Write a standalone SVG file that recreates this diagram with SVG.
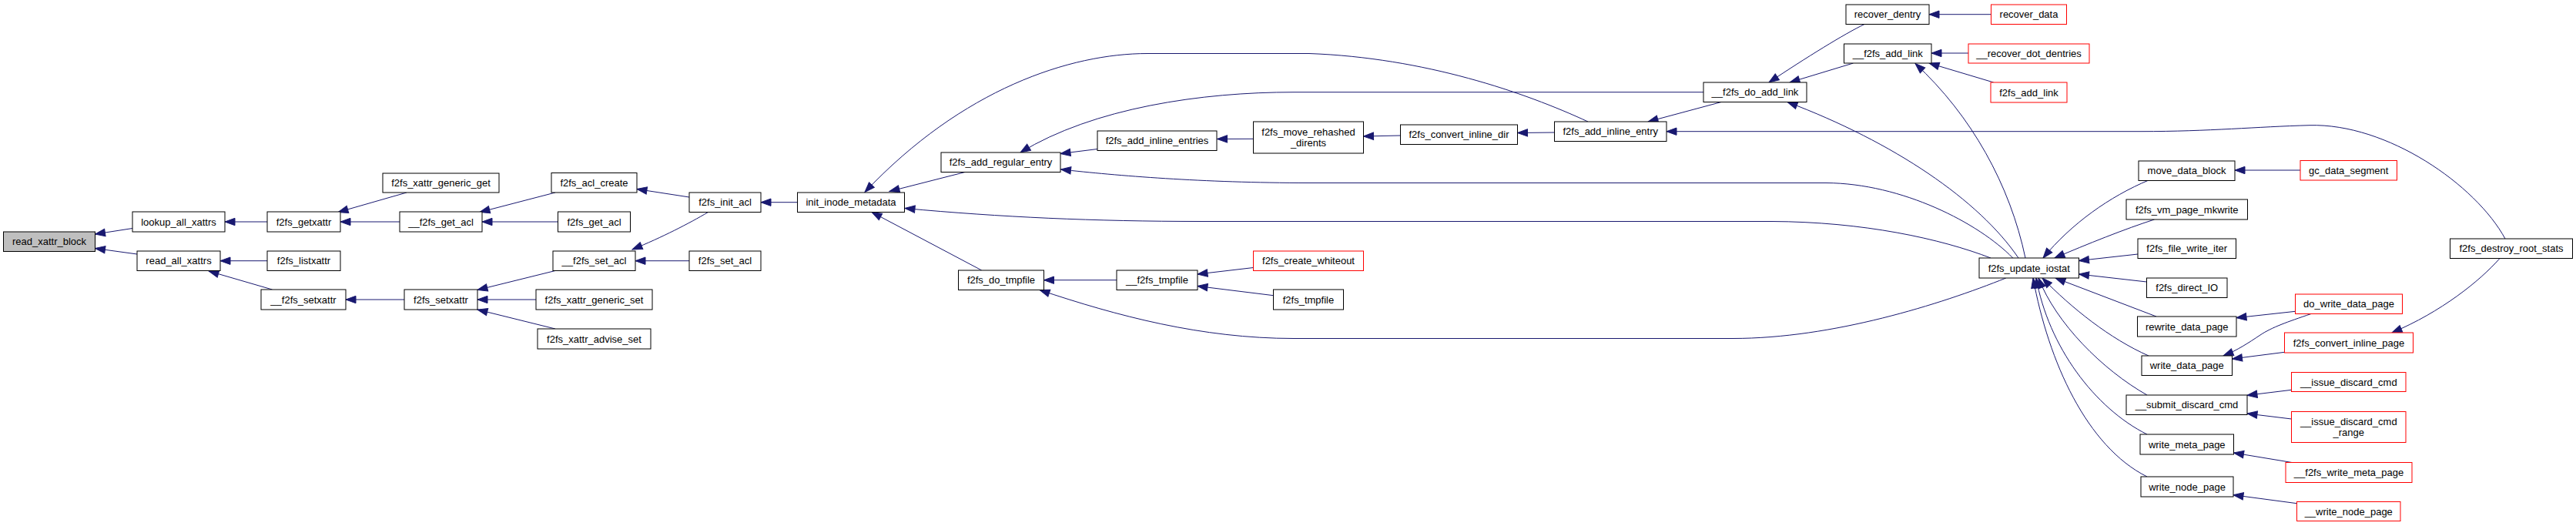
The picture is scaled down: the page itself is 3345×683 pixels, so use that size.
<svg xmlns="http://www.w3.org/2000/svg" width="3345" height="683" viewBox="0 0 3345 683">
<style>
.node rect{fill:#fff;stroke:#000;stroke-width:1}
.node.root rect{fill:#bfbfbf}
.node.red rect{stroke:#ff0000}
.node text{font-family:"Liberation Sans",Arial,Helvetica,sans-serif;font-size:13px;text-anchor:middle;fill:#000}
.edges path{fill:none;stroke:#191970;stroke-width:1;marker-end:url(#arr)}
</style>
<defs>
<marker id="arr" markerUnits="userSpaceOnUse" markerWidth="15" markerHeight="12" refX="13" refY="6" orient="auto" overflow="visible">
<path d="M0,1.3 L13,6 L0,10.7 Z" fill="#191970" stroke="#191970" stroke-width="1"/>
</marker>
</defs>
<rect width="3345" height="683" fill="#fff"/>
<g id="connectors" class="edges">
<path d="M172,296.5 L123.5,304"/>
<path d="M178,330 L123.5,322.5"/>
<path d="M347,288 L292,288"/>
<path d="M347,338.7 L286,338.7"/>
<path d="M353.5,376 L271,352"/>
<path d="M528,250 L439,275.5"/>
<path d="M519,288 L442,288"/>
<path d="M721,250 L623,275.5"/>
<path d="M724.5,288 L626,288"/>
<path d="M525,389 L449,389"/>
<path d="M721,351.5 L620,376.5"/>
<path d="M696,389 L620,389"/>
<path d="M721,427 L620,402"/>
<path d="M895,256 L827,245.5"/>
<path d="M919.5,275.5 C895,290 860,308 821,324"/>
<path d="M895,338.7 L825,338.7"/>
<path d="M1035.5,262.7 L988,262.7"/>
<path d="M1253,223.5 L1155,248.5"/>
<path d="M2062,158 C1980,120 1850,75 1700,69.5 L1490,69.5 C1390,69.5 1250,115 1123,249.5"/>
<path d="M2212,119.7 L1680,119.7 C1560,119.7 1420,140 1325,198"/>
<path d="M1425,193.5 L1377,199.5"/>
<path d="M2613.7,335 C2570,290 2470,238 2371,237.5 L1700,237.5 C1560,237.5 1450,228 1377.5,220"/>
<path d="M2585,335 C2520,310 2420,288 2300,287.5 L1560,287.5 C1420,287.5 1300,282 1175,270.5"/>
<path d="M1274.7,351 L1132,275.5"/>
<path d="M1450,363.7 L1355.5,363.7"/>
<path d="M2604.8,361 C2520,395 2380,439.5 2250,439.5 L1680,439.5 C1560,439.5 1450,410 1350,376.5"/>
<path d="M1627.5,347.5 L1555,356"/>
<path d="M1653.5,383.7 L1555,371.5"/>
<path d="M1627.5,180.3 L1580.5,180.5"/>
<path d="M1818.5,176 L1770.5,177"/>
<path d="M2018.5,172 L1970.5,172.5"/>
<path d="M2235,132.5 L2140,158"/>
<path d="M3253,310 C3215,240 3100,160 2999,162.7 C2930,164.5 2870,170.7 2780,170.7 L2164,170.7"/>
<path d="M2421,31.5 C2395,44 2345,75 2297,107"/>
<path d="M2406.5,82 L2324,107"/>
<path d="M2621,335 C2570,260 2460,185 2321,132.5"/>
<path d="M2630,335 C2610,240 2560,150 2487,82.5"/>
<path d="M2585.5,18.7 L2505,18.7"/>
<path d="M2556,69 L2508,69"/>
<path d="M2588.7,107 L2505,82"/>
<path d="M2790,234 C2740,255 2690,290 2653,335"/>
<path d="M2797.5,285 C2760,297 2710,317 2668,335"/>
<path d="M2776,330 L2699.5,338.5"/>
<path d="M2787.5,366 L2699.5,356"/>
<path d="M2800,411 L2669,361"/>
<path d="M2790,462 C2740,440 2690,400 2652,361"/>
<path d="M2788,513 C2730,480 2670,420 2647,361"/>
<path d="M2788,564 C2720,530 2660,450 2644,361"/>
<path d="M2788,619 C2710,580 2660,470 2640,361"/>
<path d="M2987,221 L2902,221"/>
<path d="M2980.5,404.3 L2904,412.7"/>
<path d="M3001,407.5 C2970,418 2950,425 2935,435 C2920,445 2905,455 2887,462"/>
<path d="M2966.5,457.3 L2898.5,466"/>
<path d="M3246,335.5 C3220,365 3170,405 3106,432"/>
<path d="M2975.5,506.3 L2918,513.3"/>
<path d="M2975.5,544 L2918,537"/>
<path d="M2976,600.5 L2900.5,588"/>
<path d="M2982.5,653.7 L2900,642.7"/>
</g>
<g id="read_xattr_block" class="node root"><rect x="4.5" y="301" width="119" height="25.5"/><text x="64" y="318.3">read_xattr_block</text></g>
<g id="lookup_all_xattrs" class="node"><rect x="172" y="275" width="120" height="26"/><text x="232" y="292.6">lookup_all_xattrs</text></g>
<g id="read_all_xattrs" class="node"><rect x="178" y="326" width="108" height="25.5"/><text x="232" y="343.3">read_all_xattrs</text></g>
<g id="f2fs_getxattr" class="node"><rect x="347" y="275" width="95" height="26"/><text x="394.5" y="292.6">f2fs_getxattr</text></g>
<g id="f2fs_listxattr" class="node"><rect x="347" y="326" width="95" height="25.5"/><text x="394.5" y="343.3">f2fs_listxattr</text></g>
<g id="__f2fs_setxattr" class="node"><rect x="339" y="376" width="110" height="26"/><text x="394" y="393.6">__f2fs_setxattr</text></g>
<g id="f2fs_xattr_generic_get" class="node"><rect x="497" y="225" width="151" height="25"/><text x="572.5" y="242.1">f2fs_xattr_generic_get</text></g>
<g id="__f2fs_get_acl" class="node"><rect x="519" y="275" width="107" height="26"/><text x="572.5" y="292.6">__f2fs_get_acl</text></g>
<g id="f2fs_setxattr" class="node"><rect x="525" y="376" width="95" height="26"/><text x="572.5" y="393.6">f2fs_setxattr</text></g>
<g id="f2fs_acl_create" class="node"><rect x="716" y="224.5" width="111" height="25.5"/><text x="771.5" y="241.9">f2fs_acl_create</text></g>
<g id="f2fs_get_acl" class="node"><rect x="724.5" y="275" width="94" height="26"/><text x="771.5" y="292.6">f2fs_get_acl</text></g>
<g id="__f2fs_set_acl" class="node"><rect x="718" y="326" width="107" height="25.5"/><text x="771.5" y="343.3">__f2fs_set_acl</text></g>
<g id="f2fs_xattr_generic_set" class="node"><rect x="696" y="376" width="151" height="26"/><text x="771.5" y="393.6">f2fs_xattr_generic_set</text></g>
<g id="f2fs_xattr_advise_set" class="node"><rect x="698" y="427" width="147" height="26"/><text x="771.5" y="444.6">f2fs_xattr_advise_set</text></g>
<g id="f2fs_init_acl" class="node"><rect x="895" y="250" width="93" height="25.5"/><text x="941.5" y="267.3">f2fs_init_acl</text></g>
<g id="f2fs_set_acl" class="node"><rect x="895" y="326" width="93" height="25.5"/><text x="941.5" y="343.3">f2fs_set_acl</text></g>
<g id="init_inode_metadata" class="node"><rect x="1035.5" y="250" width="139" height="25.5"/><text x="1105" y="267.3">init_inode_metadata</text></g>
<g id="f2fs_add_regular_entry" class="node"><rect x="1222" y="198" width="155" height="25.5"/><text x="1299.5" y="215.3">f2fs_add_regular_entry</text></g>
<g id="f2fs_do_tmpfile" class="node"><rect x="1244.5" y="351" width="111" height="25.5"/><text x="1300" y="368.3">f2fs_do_tmpfile</text></g>
<g id="f2fs_add_inline_entries" class="node"><rect x="1425" y="170" width="155" height="25.5"/><text x="1502.5" y="187.3">f2fs_add_inline_entries</text></g>
<g id="__f2fs_tmpfile" class="node"><rect x="1450" y="351" width="105" height="25.5"/><text x="1502.5" y="368.3">__f2fs_tmpfile</text></g>
<g id="f2fs_move_rehashed_dirents" class="node"><rect x="1627.5" y="158" width="143" height="41"/><text x="1699" y="176.2">f2fs_move_rehashed</text><text x="1699" y="189.8">_dirents</text></g>
<g id="f2fs_create_whiteout" class="node red"><rect x="1627.5" y="326" width="143" height="25.5"/><text x="1699" y="343.3">f2fs_create_whiteout</text></g>
<g id="f2fs_tmpfile" class="node"><rect x="1653.5" y="376" width="91" height="26"/><text x="1699" y="393.6">f2fs_tmpfile</text></g>
<g id="f2fs_convert_inline_dir" class="node"><rect x="1818.5" y="162" width="152" height="25.5"/><text x="1894.5" y="179.3">f2fs_convert_inline_dir</text></g>
<g id="f2fs_add_inline_entry" class="node"><rect x="2018.5" y="158" width="145.5" height="25.5"/><text x="2091.25" y="175.3">f2fs_add_inline_entry</text></g>
<g id="__f2fs_do_add_link" class="node"><rect x="2212" y="107" width="134" height="25.5"/><text x="2279" y="124.3">__f2fs_do_add_link</text></g>
<g id="recover_dentry" class="node"><rect x="2397" y="6" width="108" height="25.5"/><text x="2451" y="23.3">recover_dentry</text></g>
<g id="__f2fs_add_link" class="node"><rect x="2394.5" y="57" width="113.5" height="25"/><text x="2451.25" y="74.1">__f2fs_add_link</text></g>
<g id="recover_data" class="node red"><rect x="2585.5" y="6" width="98" height="25.5"/><text x="2634.5" y="23.3">recover_data</text></g>
<g id="__recover_dot_dentries" class="node red"><rect x="2556" y="57" width="157" height="25"/><text x="2634.5" y="74.1">__recover_dot_dentries</text></g>
<g id="f2fs_add_link" class="node red"><rect x="2585" y="107" width="99" height="26"/><text x="2634.5" y="124.6">f2fs_add_link</text></g>
<g id="f2fs_update_iostat" class="node"><rect x="2570" y="335" width="129.5" height="26"/><text x="2634.75" y="352.6">f2fs_update_iostat</text></g>
<g id="move_data_block" class="node"><rect x="2777" y="209" width="125" height="25.5"/><text x="2839.5" y="226.3">move_data_block</text></g>
<g id="f2fs_vm_page_mkwrite" class="node"><rect x="2761" y="259" width="157.5" height="26"/><text x="2839.75" y="276.6">f2fs_vm_page_mkwrite</text></g>
<g id="f2fs_file_write_iter" class="node"><rect x="2776" y="310" width="127.5" height="25.5"/><text x="2839.75" y="327.3">f2fs_file_write_iter</text></g>
<g id="f2fs_direct_IO" class="node"><rect x="2787.5" y="361" width="104.5" height="25.5"/><text x="2839.75" y="378.3">f2fs_direct_IO</text></g>
<g id="rewrite_data_page" class="node"><rect x="2775.5" y="411" width="128.5" height="26"/><text x="2839.75" y="428.6">rewrite_data_page</text></g>
<g id="write_data_page" class="node"><rect x="2781" y="462" width="117.5" height="25.5"/><text x="2839.75" y="479.3">write_data_page</text></g>
<g id="__submit_discard_cmd" class="node"><rect x="2761" y="513" width="157" height="25.5"/><text x="2839.5" y="530.3">__submit_discard_cmd</text></g>
<g id="write_meta_page" class="node"><rect x="2779" y="564" width="121.5" height="26"/><text x="2839.75" y="581.6">write_meta_page</text></g>
<g id="write_node_page" class="node"><rect x="2780" y="619" width="120" height="26"/><text x="2840" y="636.6">write_node_page</text></g>
<g id="gc_data_segment" class="node red"><rect x="2987" y="208.5" width="125.5" height="25.5"/><text x="3049.75" y="225.8">gc_data_segment</text></g>
<g id="f2fs_destroy_root_stats" class="node"><rect x="3181.5" y="310" width="159" height="25.5"/><text x="3261" y="327.3">f2fs_destroy_root_stats</text></g>
<g id="do_write_data_page" class="node red"><rect x="2980.5" y="382" width="139" height="25.5"/><text x="3050" y="399.3">do_write_data_page</text></g>
<g id="f2fs_convert_inline_page" class="node red"><rect x="2966.5" y="432" width="167" height="26"/><text x="3050" y="449.6">f2fs_convert_inline_page</text></g>
<g id="__issue_discard_cmd" class="node red"><rect x="2975.5" y="483.5" width="148.5" height="25"/><text x="3049.75" y="500.6">__issue_discard_cmd</text></g>
<g id="__issue_discard_cmd_range" class="node red"><rect x="2975.5" y="534.5" width="148.5" height="40"/><text x="3049.75" y="552.2">__issue_discard_cmd</text><text x="3049.75" y="565.8">_range</text></g>
<g id="__f2fs_write_meta_page" class="node red"><rect x="2968" y="600.5" width="164" height="26"/><text x="3050" y="618.1">__f2fs_write_meta_page</text></g>
<g id="__write_node_page" class="node red"><rect x="2982.5" y="651.5" width="134.5" height="25"/><text x="3049.75" y="668.6">__write_node_page</text></g>
</svg>
